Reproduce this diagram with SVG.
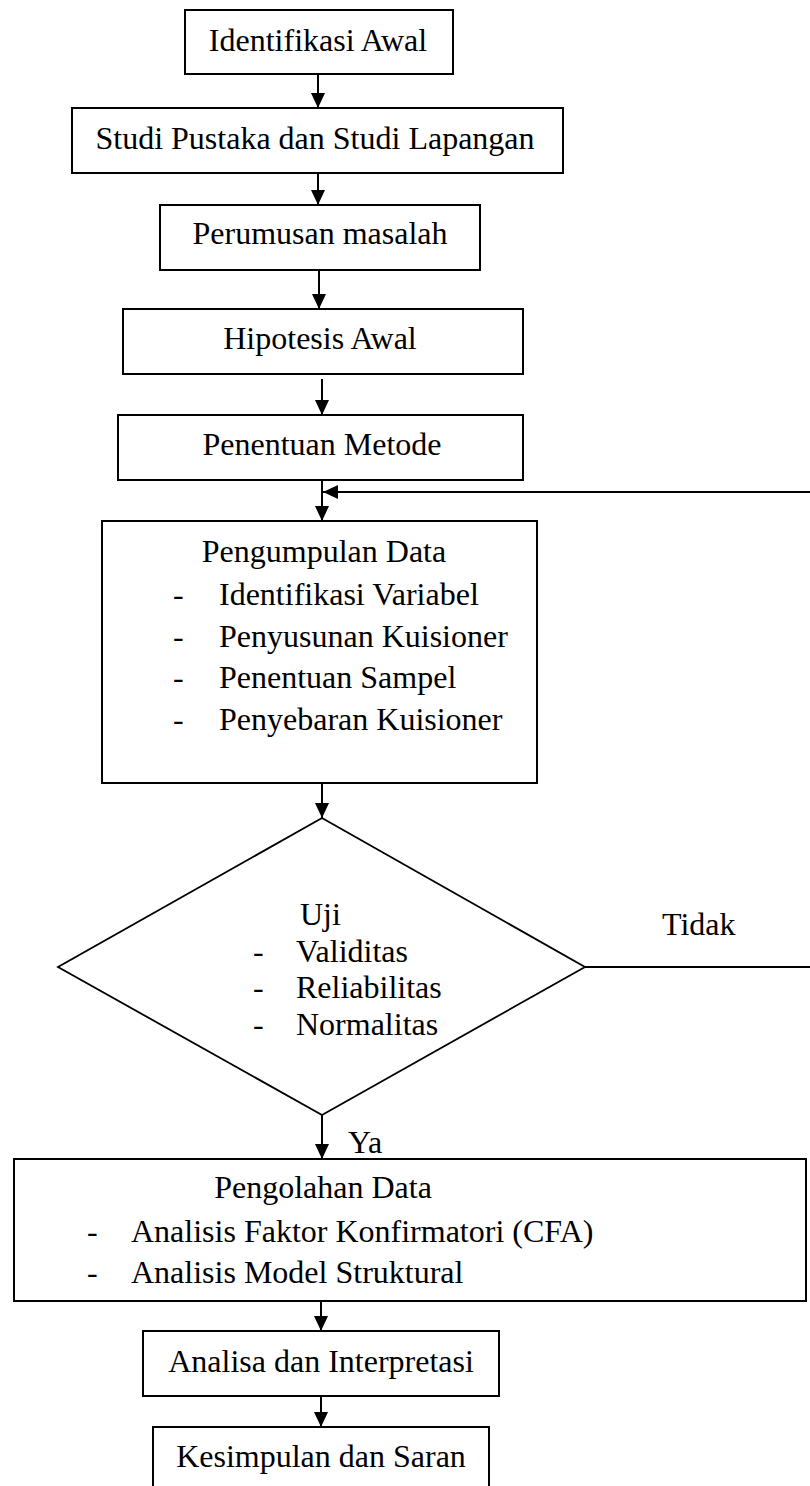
<svg xmlns="http://www.w3.org/2000/svg" width="810" height="1486" viewBox="0 0 810 1486">
  <style>
    .box { fill: #ffffff; stroke: #000000; stroke-width: 2; }
    .dec { fill: #ffffff; stroke: #000000; stroke-width: 1.8; }
    .lbl { font-family: "Liberation Serif", "Times New Roman", serif; font-size: 32px; fill: #000000; }
    .mid { text-anchor: middle; }
    .conn { fill: none; stroke: #000000; stroke-width: 2; }
  </style>
  <defs>
    <marker id="arrow" markerUnits="userSpaceOnUse" markerWidth="15" markerHeight="14" refX="15" refY="7" orient="auto">
      <path d="M0,0 L15,7 L0,14 Z" fill="#000000"/>
    </marker>
  </defs>
  <rect width="810" height="1486" fill="#ffffff"/>

  <g id="connectors">
    <line class="conn" x1="318" y1="74" x2="318" y2="108" marker-end="url(#arrow)"/>
    <line class="conn" x1="318" y1="173" x2="318" y2="205" marker-end="url(#arrow)"/>
    <line class="conn" x1="319" y1="270" x2="319" y2="309" marker-end="url(#arrow)"/>
    <line class="conn" x1="322" y1="379" x2="322" y2="415" marker-end="url(#arrow)"/>
    <line class="conn" x1="322" y1="480" x2="322" y2="521" marker-end="url(#arrow)"/>
    <path class="conn" d="M585,967 H812 V492 H323" marker-end="url(#arrow)"/>
    <line class="conn" x1="322" y1="783" x2="322" y2="818" marker-end="url(#arrow)"/>
    <line class="conn" x1="322" y1="1115" x2="322" y2="1159" marker-end="url(#arrow)"/>
    <line class="conn" x1="321" y1="1301" x2="321" y2="1331" marker-end="url(#arrow)"/>
    <line class="conn" x1="321" y1="1396" x2="321" y2="1427" marker-end="url(#arrow)"/>
    <text class="lbl" x="662" y="935">Tidak</text>
    <text class="lbl" x="348" y="1153">Ya</text>
  </g>

  <g id="identifikasi-awal">
    <rect class="box" x="185" y="10" width="268" height="64"/>
    <text class="lbl mid" x="318" y="51">Identifikasi Awal</text>
  </g>

  <g id="studi-pustaka">
    <rect class="box" x="72" y="108" width="491" height="65"/>
    <text class="lbl mid" x="315" y="149">Studi Pustaka dan Studi Lapangan</text>
  </g>

  <g id="perumusan-masalah">
    <rect class="box" x="160" y="205" width="320" height="65"/>
    <text class="lbl mid" x="320" y="244">Perumusan masalah</text>
  </g>

  <g id="hipotesis-awal">
    <rect class="box" x="123" y="309" width="400" height="65"/>
    <text class="lbl mid" x="320" y="349">Hipotesis Awal</text>
  </g>

  <g id="penentuan-metode">
    <rect class="box" x="118" y="415" width="405" height="65"/>
    <text class="lbl mid" x="322" y="455">Penentuan Metode</text>
  </g>

  <g id="pengumpulan-data">
    <rect class="box" x="102" y="521" width="435" height="262"/>
    <text class="lbl mid" x="324" y="562">Pengumpulan Data</text>
    <text class="lbl" x="173" y="605">-</text>
    <text class="lbl" x="219" y="605">Identifikasi Variabel</text>
    <text class="lbl" x="173" y="647">-</text>
    <text class="lbl" x="219" y="647">Penyusunan Kuisioner</text>
    <text class="lbl" x="173" y="688">-</text>
    <text class="lbl" x="219" y="688">Penentuan Sampel</text>
    <text class="lbl" x="173" y="730">-</text>
    <text class="lbl" x="219" y="730">Penyebaran Kuisioner</text>
  </g>

  <g id="uji">
    <polygon class="dec" points="322,818 585,967 322,1115 58,967"/>
    <text class="lbl" x="300" y="925">Uji</text>
    <text class="lbl" x="253" y="962">-</text>
    <text class="lbl" x="296" y="962">Validitas</text>
    <text class="lbl" x="253" y="998">-</text>
    <text class="lbl" x="296" y="998">Reliabilitas</text>
    <text class="lbl" x="253" y="1035">-</text>
    <text class="lbl" x="296" y="1035">Normalitas</text>
  </g>

  <g id="pengolahan-data">
    <rect class="box" x="14" y="1159" width="792" height="142"/>
    <text class="lbl mid" x="323" y="1198">Pengolahan Data</text>
    <text class="lbl" x="87" y="1242">-</text>
    <text class="lbl" x="131" y="1242">Analisis Faktor Konfirmatori (CFA)</text>
    <text class="lbl" x="87" y="1283">-</text>
    <text class="lbl" x="131" y="1283">Analisis Model Struktural</text>
  </g>

  <g id="analisa-interpretasi">
    <rect class="box" x="143" y="1331" width="356" height="65"/>
    <text class="lbl mid" x="321" y="1372">Analisa dan Interpretasi</text>
  </g>

  <g id="kesimpulan-saran">
    <rect class="box" x="153" y="1427" width="336" height="66"/>
    <text class="lbl mid" x="321" y="1467">Kesimpulan dan Saran</text>
  </g>
</svg>
